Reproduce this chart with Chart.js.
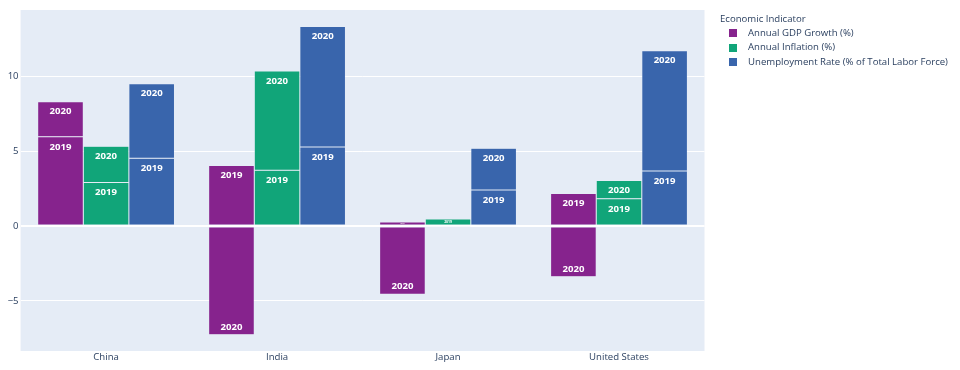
<!DOCTYPE html>
<html>
<head>
<meta charset="utf-8">
<script src="https://cdn.jsdelivr.net/npm/chart.js@4"></script>
<style>
  body { margin: 0; background: #fff; font-family: "Open Sans", sans-serif; }
  #wrap { position: relative; width: 960px; height: 370px; }
  .lg { position: absolute; font-size: 9.6px; color: #2a3f5f; line-height: 12px; white-space: nowrap; }
  .sw { position: absolute; width: 8px; height: 8px; }
</style>
</head>
<body>
<div id="wrap">
  <canvas id="myChart" width="960" height="370"></canvas>
  <div id="legend"></div>
</div>
<script>
// data
var countries = ["China", "India", "Japan", "United States"];
var indicators = ["Annual GDP Growth (%)", "Annual Inflation (%)", "Unemployment Rate (% of Total Labor Force)"];
var years = ["2019", "2020"];
var gdp2019 = [5.95, 4.04, 0.27, 2.16];
var gdp2020 = [2.35, -7.27, -4.56, -3.40];
var inf2019 = [2.90, 3.72, 0.47, 1.81];
var inf2020 = [2.42, 6.62, -0.03, 1.23];
var unemp2019 = [4.52, 5.27, 2.40, 3.67];
var unemp2020 = [4.98, 8.04, 2.79, 8.03];
var yTicks = [-5, 0, 5, 10];

var colors = ["#86238D", "#11A579", "#3965AC"];
var values = [[gdp2019, gdp2020], [inf2019, inf2020], [unemp2019, unemp2020]];

var datasets = [];
years.forEach(function (yr, k) {
    indicators.forEach(function (name, i) {
        datasets.push({
            label: name + " " + yr,
            year: yr,
            stack: "s" + i,
            data: values[i][k],
            backgroundColor: colors[i],
            borderColor: "#E5ECF6",
            borderWidth: 0.5,
            borderSkipped: false
        });
    });
});

// plot background
var plotBg = {
    id: "plotBg",
    beforeDraw: function (chart) {
        var ctx = chart.ctx, a = chart.chartArea;
        ctx.save();
        ctx.fillStyle = "#fff";
        ctx.fillRect(0, 0, chart.width, chart.height);
        ctx.fillStyle = "#E5ECF6";
        ctx.fillRect(a.left, a.top, a.right - a.left, a.bottom - a.top);
        ctx.restore();
    }
};

// year text inside each bar segment, at its outer end
var barText = {
    id: "barText",
    afterDatasetsDraw: function (chart) {
        var ctx = chart.ctx;
        ctx.save();
        ctx.fillStyle = "#fff";
        ctx.textAlign = "center";
        ctx.textBaseline = "middle";
        chart.data.datasets.forEach(function (ds, i) {
            var meta = chart.getDatasetMeta(i);
            meta.data.forEach(function (bar, j) {
                var v = ds.data[j];
                var h = Math.abs(bar.base - bar.y);
                var scale = Math.min(1, h / 17);
                var size = 9.6 * scale;
                if (size < 1.2) return;
                ctx.font = "bold " + size + "px 'Open Sans'";
                var y = v >= 0 ? bar.y + 10 * scale : bar.y - 8 * scale;
                ctx.fillText(ds.year, bar.x, y);
            });
        });
        ctx.restore();
    }
};

var chartPlaceholder = document.getElementById("myChart");
var myChart = new Chart(chartPlaceholder, {
    type: "bar",
    data: { labels: countries, datasets: datasets },
    plugins: [plotBg, barText],
    options: {
        responsive: false,
        animation: false,
        devicePixelRatio: 1,
        categoryPercentage: 0.8,
        barPercentage: 1.0,
        layout: { padding: { top: 10, right: 255.5, left: 0, bottom: 0 } },
        plugins: { legend: { display: false }, tooltip: { enabled: false } },
        scales: {
            x: {
                stacked: true,
                grid: { display: false, drawTicks: false },
                border: { display: false },
                ticks: { color: "#2a3f5f", font: { family: "Open Sans", size: 9.6 }, padding: 1 },
                afterFit: function (scale) { scale.height = 19; }
            },
            y: {
                stacked: true,
                min: -8.35,
                max: 14.42,
                afterBuildTicks: function (scale) {
                    scale.ticks = yTicks.map(function (v) { return { value: v }; });
                },
                afterFit: function (scale) { scale.width = 20.6; },
                border: { display: false },
                grid: {
                    color: "#fff",
                    lineWidth: function (c) { return c.tick && c.tick.value === 0 ? 2 : 1; },
                    drawTicks: false
                },
                ticks: {
                    color: "#2a3f5f",
                    font: { family: "Open Sans", size: 9.6 },
                    padding: 2,
                    callback: function (v) { return v < 0 ? "\u2212" + Math.abs(v) : String(v); }
                }
            }
        }
    }
});

// legend
var legend = document.getElementById("legend");
var html = '<div class="lg" style="left:720px;top:13px;">Economic Indicator</div>';
indicators.forEach(function (name, i) {
    var cy = 33 + i * 14.6;
    html += '<div class="sw" style="left:729px;top:' + (cy - 4) + 'px;background:' + colors[i] + ';"></div>';
    html += '<div class="lg" style="left:748px;top:' + (cy - 6.5) + 'px;">' + name + '</div>';
});
legend.innerHTML = html;
</script>
</body>
</html>
